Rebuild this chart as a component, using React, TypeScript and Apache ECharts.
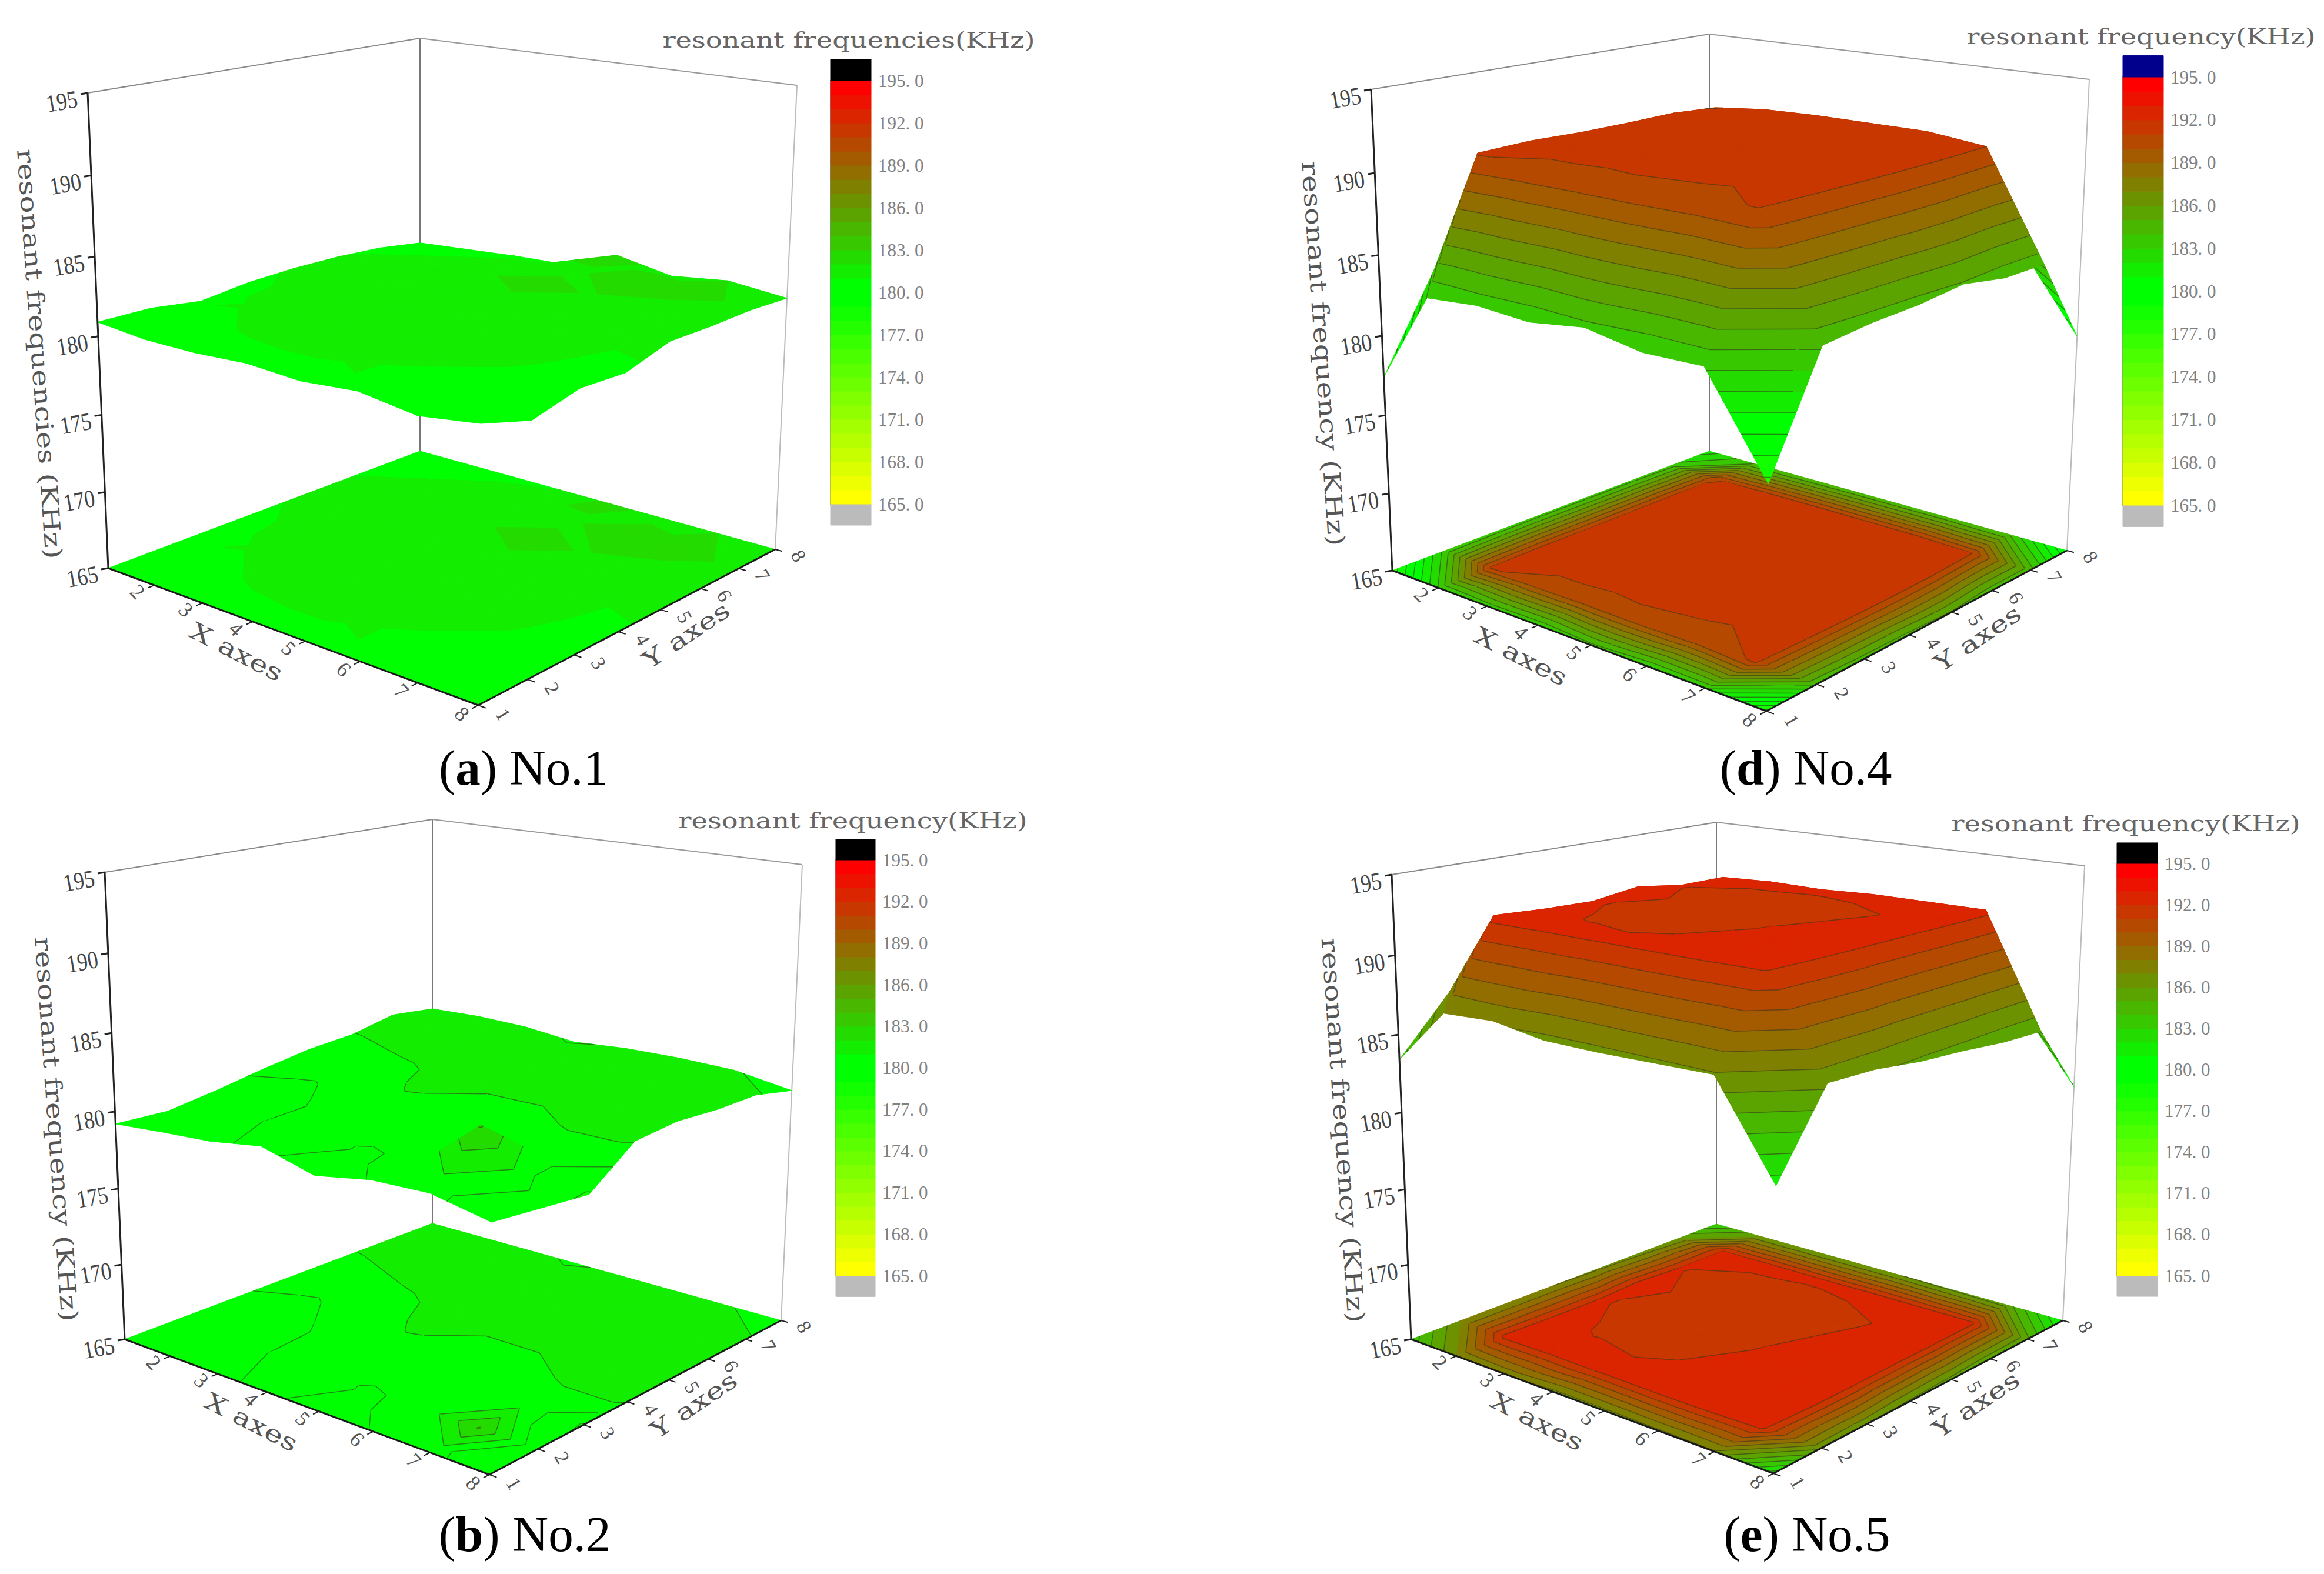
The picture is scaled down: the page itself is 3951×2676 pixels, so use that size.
import React, { useEffect, useRef } from "react";
import * as echarts from "echarts";

const W = 3951;
const H = 2676;

// Read values: row = X axis 1..8, column = Y axis 1..8 (KHz)
const panelA = [
  [180.9, 180.9, 180.5, 180.9, 181.05, 181.05, 180.9, 180.5],
  [180.6, 180.8, 181.05, 181.1, 181.1, 181.1, 181.0, 180.7],
  [180.6, 181.05, 181.2, 181.3, 181.4, 181.5, 181.2, 180.9],
  [180.8, 181.1, 181.3, 181.6, 181.7, 181.9, 181.7, 181.0],
  [180.6, 181.1, 181.3, 181.6, 181.8, 182.3, 181.8, 182.3],
  [180.9, 180.9, 181.2, 181.4, 181.7, 181.9, 182.8, 181.6],
  [180.4, 180.7, 180.95, 181.1, 181.2, 181.5, 182.4, 182.0],
  [180.9, 180.0, 180.8, 180.7, 181.6, 181.6, 181.7, 181.6],
];
const panelB = [
  [179.2, 179.1, 179.6, 180.2, 180.7, 180.95, 181.6, 181.3],
  [179.5, 179.4, 179.6, 179.9, 180.7, 181.15, 181.4, 181.4],
  [179.75, 180.0, 180.05, 180.5, 180.9, 181.3, 181.4, 181.3],
  [180.3, 180.2, 180.4, 181.05, 181.2, 181.4, 181.4, 180.9],
  [179.4, 179.95, 180.3, 180.85, 181.1, 181.3, 181.4, 181.15],
  [180.05, 180.1, 180.3, 180.85, 181.1, 181.3, 181.3, 181.2],
  [180.2, 183.1, 180.7, 181.05, 181.3, 181.3, 181.2, 181.1],
  [179.5, 179.2, 178.9, 181.05, 181.3, 181.1, 181.1, 180.5],
];
const panelD = [
  [177.4, 183.3, 183.5, 183.6, 183.6, 183.6, 183.5, 181.5],
  [183.1, 191.1, 191.2, 191.1, 191.1, 191.15, 190.95, 184.0],
  [183.4, 190.7, 191.4, 191.5, 191.6, 191.6, 191.3, 184.1],
  [183.2, 190.6, 191.4, 191.6, 191.7, 191.7, 191.4, 184.2],
  [183.7, 190.7, 191.3, 191.6, 191.7, 191.7, 191.4, 184.2],
  [183.1, 190.5, 191.2, 191.5, 191.6, 191.6, 191.4, 184.2],
  [183.2, 191.1, 191.3, 191.4, 191.4, 191.3, 191.0, 184.0],
  [177.7, 184.2, 184.5, 184.6, 184.9, 184.4, 184.4, 179.0],
];
const panelE = [
  [183.4, 187.0, 187.0, 187.0, 186.8, 186.5, 186.0, 183.0],
  [187.0, 192.4, 192.2, 192.1, 192.5, 192.05, 192.05, 186.0],
  [187.2, 192.3, 191.95, 191.7, 191.7, 191.8, 192.2, 186.0],
  [186.7, 192.4, 191.8, 191.6, 191.5, 191.7, 192.15, 186.0],
  [186.7, 192.5, 192.15, 191.95, 191.8, 191.7, 192.3, 186.0],
  [186.8, 192.5, 192.4, 192.3, 192.2, 192.05, 192.3, 185.8],
  [186.9, 192.3, 192.5, 192.5, 192.4, 192.4, 192.3, 185.5],
  [181.5, 186.3, 186.2, 185.8, 185.6, 185.3, 185.2, 180.8],
];

const zTicks = [165, 170, 175, 180, 185, 190, 195];
const xTicks = [2, 3, 4, 5, 6, 7, 8];
const yTicks = [1, 2, 3, 4, 5, 6, 7, 8];

const zMin = 165;
const zMax = 195;

type P = [number, number];

// Layout of the four panels, in page pixels
const panels = [
  {
    data: panelA, lines: false, cap: "#000000",
    legend: "resonant frequencies(KHz)", legendAt: [1443, 68] as P,
    zTitle: "resonant frequencies (KHz)",
    caption: "({b|a}) No.1", captionAt: [890, 1305] as P,
    floor: [[184, 966], [813, 1199], [1318, 934], [714, 767]] as P[],
    top: [[149, 158], [821, 274], [1355, 145], [714, 65]] as P[],
    bar: { left: 1412, width: 69, top: 137, height: 720 },
  },
  {
    data: panelB, lines: true, cap: "#000000",
    legend: "resonant frequency(KHz)", legendAt: [1450, 1395] as P,
    zTitle: "resonant frequency (KHz)",
    caption: "({b|b}) No.2", captionAt: [892, 2608] as P,
    floor: [[212, 2277], [832, 2507], [1328, 2245], [735, 2080]] as P[],
    top: [[178, 1483], [840, 1596], [1364, 1470], [735, 1393]] as P[],
    bar: { left: 1421, width: 67, top: 1462, height: 707 },
  },
  {
    data: panelD, lines: true, cap: "#00008c",
    legend: "resonant frequency(KHz)", legendAt: [3640, 62] as P,
    zTitle: "resonant frequency (KHz)",
    caption: "({b|d}) No.4", captionAt: [3070, 1305] as P,
    floor: [[2367, 970], [3003, 1209], [3514, 936], [2906, 767]] as P[],
    top: [[2331, 152], [3011, 270], [3552, 135], [2906, 58]] as P[],
    bar: { left: 3609, width: 69, top: 131, height: 728 },
  },
  {
    data: panelE, lines: true, cap: "#000000",
    legend: "resonant frequency(KHz)", legendAt: [3614, 1400] as P,
    zTitle: "resonant frequency (KHz)",
    caption: "({b|e}) No.5", captionAt: [3072, 2608] as P,
    floor: [[2399, 2277], [3015, 2505], [3507, 2245], [2918, 2081]] as P[],
    top: [[2366, 1487], [3023, 1596], [3544, 1472], [2918, 1398]] as P[],
    bar: { left: 3599, width: 69, top: 1468, height: 701 },
  },
];

function bandColor(lo: number) {
  const i = Math.max(0, Math.min(29, Math.floor(lo) - zMin));
  let r: number, g: number;
  if (i >= 15) {
    r = ((i - 15) / 14) * 255;
    g = 255 - r;
  } else {
    r = ((14 - i) / 14) * 255;
    g = 255;
  }
  return `rgb(${Math.round(r)},${Math.round(g)},0)`;
}

function squareToQuad(q: P[]) {
  const [[x0, y0], [x1, y1], [x2, y2], [x3, y3]] = q;
  const dx1 = x1 - x2, dx2 = x3 - x2, sx = x0 - x1 + x2 - x3;
  const dy1 = y1 - y2, dy2 = y3 - y2, sy = y0 - y1 + y2 - y3;
  const den = dx1 * dy2 - dx2 * dy1;
  const g = (sx * dy2 - dx2 * sy) / den;
  const h = (dx1 * sy - sx * dy1) / den;
  const a = x1 - x0 + g * x1, b = x3 - x0 + h * x3;
  const d = y1 - y0 + g * y1, e = y3 - y0 + h * y3;
  return (u: number, v: number): P => {
    const w = g * u + h * v + 1;
    return [(a * u + b * v + x0) / w, (d * u + e * v + y0) / w];
  };
}

function makeProjector(floor: P[], top: P[]) {
  const h0 = squareToQuad(floor);
  const h1 = squareToQuad(top);
  return (x: number, y: number, z: number): P => {
    const u = (x - 1) / 7, v = (y - 1) / 7;
    const t = (z - zMin) / (zMax - zMin);
    const s = t / (1 + 0.05 * (1 - t));
    const a = h0(u, v), b = h1(u, v);
    return [a[0] + (b[0] - a[0]) * s, a[1] + (b[1] - a[1]) * s];
  };
}

type V = [number, number, number];

function clipPoly(pts: V[], level: number, above: boolean): V[] {
  const out: V[] = [];
  for (let i = 0; i < pts.length; i++) {
    const a = pts[i], b = pts[(i + 1) % pts.length];
    const ina = above ? a[2] >= level : a[2] <= level;
    const inb = above ? b[2] >= level : b[2] <= level;
    if (ina) out.push(a);
    if (ina !== inb) {
      const t = (level - a[2]) / (b[2] - a[2]);
      out.push([a[0] + (b[0] - a[0]) * t, a[1] + (b[1] - a[1]) * t, level]);
    }
  }
  return out;
}

function triangles(data: number[][]): V[][] {
  const tris: V[][] = [];
  for (let i = 0; i < 7; i++) {
    for (let j = 6; j >= 0; j--) {
      const v = (a: number, b: number): V => [a + 1, b + 1, data[a][b]];
      const p00 = v(i, j), p10 = v(i + 1, j), p11 = v(i + 1, j + 1), p01 = v(i, j + 1);
      if (Math.abs(p10[2] - p01[2]) <= Math.abs(p00[2] - p11[2])) {
        tris.push([p00, p10, p01], [p10, p11, p01]);
      } else {
        tris.push([p00, p11, p01], [p00, p10, p11]);
      }
    }
  }
  return tris;
}

function surfaceChildren(
  tris: V[][],
  lines: boolean,
  toPx: (x: number, y: number, z: number) => number[],
  flat: boolean
) {
  const out: any[] = [];
  for (const tri of tris) {
    const zs = tri.map((p) => p[2]);
    const lo = Math.floor(Math.min(...zs));
    const hi = Math.ceil(Math.max(...zs));
    for (let l = lo; l < hi; l++) {
      let poly = clipPoly(tri, l, true);
      if (poly.length) poly = clipPoly(poly, l + 1, false);
      if (poly.length < 3) continue;
      const c = bandColor(l);
      out.push({
        type: "polygon",
        silent: true,
        shape: { points: poly.map((p) => toPx(p[0], p[1], flat ? zMin : p[2])) },
        style: { fill: c, stroke: c, lineWidth: 1 },
      });
    }
    if (lines) {
      for (let l = lo + 1; l < hi; l++) {
        const seg: number[][] = [];
        for (let k = 0; k < 3; k++) {
          const a = tri[k], b = tri[(k + 1) % 3];
          if (a[2] < l !== b[2] < l) {
            const t = (l - a[2]) / (b[2] - a[2]);
            seg.push(toPx(a[0] + (b[0] - a[0]) * t, a[1] + (b[1] - a[1]) * t, flat ? zMin : l));
          }
        }
        if (seg.length === 2) {
          out.push({
            type: "line",
            silent: true,
            shape: { x1: seg[0][0], y1: seg[0][1], x2: seg[1][0], y2: seg[1][1] },
            style: { stroke: "rgba(50,60,30,0.6)", lineWidth: 1.5 },
          });
        }
      }
    }
  }
  return out;
}

function panelRender(p: (typeof panels)[number]) {
  const proj = makeProjector(p.floor, p.top);
  const tris = triangles(p.data);
  return (_params: any, api: any) => {
    const toPx = (x: number, y: number, z: number) => api.coord(proj(x, y, z));
    const seg = (a: number[], b: number[], stroke: string, lineWidth: number) => ({
      type: "line",
      silent: true,
      shape: { x1: a[0], y1: a[1], x2: b[0], y2: b[1] },
      style: { stroke, lineWidth },
    });
    const label = (text: string, at: number[], rotation: number, font: string, fill: string, sx = 1) => ({
      type: "text",
      silent: true,
      x: at[0],
      y: at[1],
      scaleX: sx,
      rotation: (rotation * Math.PI) / 180,
      style: { text, font, fill, textAlign: "center", textVerticalAlign: "middle" },
    });
    const kids: any[] = [];
    // Box frame
    kids.push(seg(toPx(1, 8, zMin), toPx(1, 8, zMax), "#777777", 2));
    kids.push(seg(toPx(8, 8, zMin), toPx(8, 8, zMax), "#bbbbbb", 2));
    kids.push(seg(toPx(1, 1, zMax), toPx(1, 8, zMax), "#888888", 2));
    kids.push(seg(toPx(1, 8, zMax), toPx(8, 8, zMax), "#999999", 2));
    // Floor projection and surface
    kids.push(...surfaceChildren(tris, p.lines, toPx, true));
    kids.push(...surfaceChildren(tris, p.lines, toPx, false));
    // Axes
    kids.push(seg(toPx(1, 1, zMin), toPx(1, 1, zMax), "#222222", 3));
    kids.push(seg(toPx(1, 1, zMin), toPx(8, 1, zMin), "#1a1a1a", 3));
    kids.push(seg(toPx(8, 1, zMin), toPx(8, 8, zMin), "#1a1a1a", 3));
    const numFont = '42px "Liberation Serif"';
    for (const z of zTicks) {
      const at = toPx(1, 1, z);
      kids.push(seg(at, [at[0] - 12, at[1] + 2], "#222222", 3));
      kids.push(label(String(z), [at[0] - 44, at[1] + 14], 10, numFont, "#444444", 0.85));
    }
    for (const x of xTicks) {
      kids.push(seg(toPx(x, 1, zMin), toPx(x, 0.88, zMin), "#222222", 2));
      kids.push(label(String(x), toPx(x, 0.68, zMin), -45, '36px "Liberation Serif"', "#555555"));
    }
    for (const y of yTicks) {
      kids.push(seg(toPx(8, y, zMin), toPx(8.12, y, zMin), "#222222", 2));
      kids.push(label(String(y), toPx(8.4, y, zMin), -60, '34px "Liberation Serif"', "#555555"));
    }
    const titleFont = '40px "DejaVu Serif"';
    kids.push(label("X axes", toPx(4.55, 0.15, zMin), -27, titleFont, "#555555", 1.3));
    kids.push(label("Y axes", toPx(8.76, 4.5, zMin), 34, titleFont, "#555555", 1.3));
    const mid = toPx(1, 1, (zMin + zMax) / 2);
    kids.push(label(p.zTitle, [mid[0] - 100, mid[1] + 30], -86, titleFont, "#555555", 1.25));
    kids.push(label(p.legend, p.legendAt, 0, '38px "DejaVu Serif"', "#666666", 1.22));
    kids.push({
      type: "text",
      silent: true,
      x: p.captionAt[0],
      y: p.captionAt[1],
      style: {
        text: p.caption,
        fontFamily: "Liberation Serif",
        fontSize: 85,
        fill: "#000000",
        textAlign: "center",
        textVerticalAlign: "middle",
        rich: { b: { fontFamily: "Liberation Serif", fontSize: 85, fontWeight: "bold", fill: "#000000" } },
      },
    });
    return { type: "group", children: kids };
  };
}

function barData() {
  const rows: number[][] = [[163.5, 165]];
  for (let l = zMin; l < zMax; l++) rows.push([l, l + 1]);
  rows.push([195, 196.5]);
  return rows;
}

function buildOption() {
  const grid: any[] = [{ left: 0, top: 0, width: W, height: H, show: false }];
  const xAxis: any[] = [{ type: "value", gridIndex: 0, min: 0, max: W, show: false }];
  const yAxis: any[] = [{ type: "value", gridIndex: 0, min: 0, max: H, inverse: true, show: false }];
  const series: any[] = [];
  panels.forEach((p, i) => {
    const g = i + 1;
    grid.push({ left: p.bar.left, top: p.bar.top, width: p.bar.width, height: p.bar.height, show: false });
    xAxis.push({ type: "value", gridIndex: g, min: 0, max: 1, show: false });
    yAxis.push({
      type: "value",
      gridIndex: g,
      position: "right",
      min: 165,
      max: 195,
      interval: 3,
      splitLine: { show: false },
      axisLine: { show: true, lineStyle: { color: "#888888", width: 3 } },
      axisTick: { show: true, length: 18, lineStyle: { color: "#666666", width: 2 } },
      axisLabel: {
        margin: 12,
        color: "#808080",
        fontFamily: "Liberation Serif",
        fontSize: 31,
        formatter: (v: number) => v.toFixed(1).replace(".", ". "),
      },
    });
    series.push({
      type: "custom",
      coordinateSystem: "cartesian2d",
      xAxisIndex: 0,
      yAxisIndex: 0,
      silent: true,
      data: [[0, 0]],
      renderItem: panelRender(p),
    });
    series.push({
      type: "custom",
      coordinateSystem: "cartesian2d",
      xAxisIndex: g,
      yAxisIndex: g,
      silent: true,
      clip: false,
      data: barData().map((r) => [0, r[0], r[1]]),
      encode: { x: 0, y: [1, 2] },
      renderItem: (_params: any, api: any) => {
        const lo = api.value(1);
        const hi = api.value(2);
        const a = api.coord([0, hi]);
        const b = api.coord([1, lo]);
        const c = lo < zMin ? "#bbbbbb" : lo >= zMax ? p.cap : bandColor(lo);
        return {
          type: "rect",
          silent: true,
          shape: { x: a[0], y: a[1], width: b[0] - a[0], height: b[1] - a[1] },
          style: { fill: c, stroke: c, lineWidth: 1 },
        };
      },
    });
  });
  return { animation: false, backgroundColor: "#ffffff", grid, xAxis, yAxis, series };
}

export default function App() {
  const ref = useRef<HTMLDivElement>(null);
  useEffect(() => {
    document.body.style.margin = "0";
    const chart = echarts.init(ref.current!, undefined, { renderer: "svg" });
    chart.setOption(buildOption());
    return () => chart.dispose();
  }, []);
  return <div ref={ref} style={{ width: W, height: H }} />;
}
